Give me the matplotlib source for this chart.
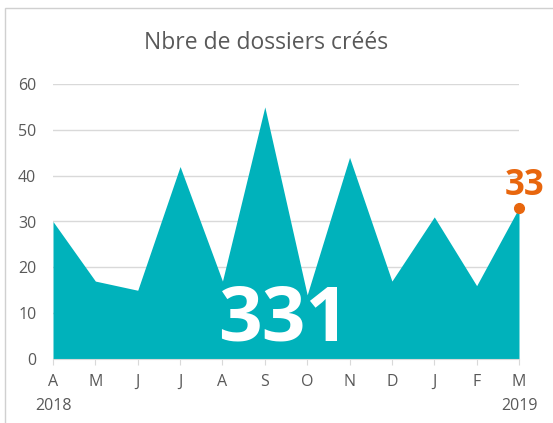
import matplotlib.pyplot as plt
from matplotlib.patches import Rectangle

plt.rcParams['font.family'] = ['Open Sans', 'DejaVu Sans']

months = ['A', 'M', 'J', 'J', 'A', 'S', 'O', 'N', 'D', 'J', 'F', 'M']
years = {0: '2018', 11: '2019'}
dossiers = [30, 17, 15, 42, 17, 55, 14, 44, 17, 31, 16, 33]

teal = '#00B2BB'
orange = '#E8660D'
grey_txt = '#595959'
grid_col = '#D9D9D9'

fig = plt.figure(figsize=(5.53, 4.23), dpi=100)
fig.patches.append(Rectangle((5 / 553, -0.1), 1.2, 1 - 8 / 423 + 0.1,
                             transform=fig.transFigure, fill=False,
                             edgecolor='#D0D0D0', lw=1))

ax = fig.add_axes([53 / 553, 1 - 359 / 423, (519 - 53) / 553, 275 / 423])
x = list(range(len(dossiers)))
ax.fill_between(x, dossiers, 0, color=teal, lw=0, zorder=2)
ax.plot(x[-1], dossiers[-1], 'o', color=orange, ms=7, zorder=3, clip_on=False)
ax.annotate(str(dossiers[-1]), (x[-1], dossiers[-1]), xytext=(4, 3),
            textcoords='offset points', ha='center', va='bottom',
            color=orange, fontsize=25, fontweight='bold')
ax.text(5.45, 8.2, str(sum(dossiers)), ha='center', va='center',
        color='white', fontsize=55, fontweight='bold', zorder=4)

ax.set_xlim(0, 11)
ax.set_ylim(0, 60)
ax.set_yticks(range(0, 61, 10))
ax.set_xticks(x)
ax.set_xticklabels(months)
ax.grid(axis='y', color=grid_col, lw=1, zorder=0)
for s in ['top', 'right', 'left']:
    ax.spines[s].set_visible(False)
ax.spines['bottom'].set_color(grid_col)
ax.tick_params(axis='y', length=0, labelsize=11.5, colors=grey_txt, pad=12)
ax.tick_params(axis='x', length=4, color=grid_col, labelsize=11.5,
               labelcolor=grey_txt, pad=7)
for i, yr in years.items():
    ax.text(i, -0.17, yr, transform=ax.get_xaxis_transform(), ha='center',
            va='center', fontsize=11.5, color=grey_txt)

fig.text(266 / 553, 1 - 43 / 423, 'Nbre de dossiers créés', ha='center',
         va='center', fontsize=16.5, color=grey_txt)

fig.savefig('out.png', dpi=100)
